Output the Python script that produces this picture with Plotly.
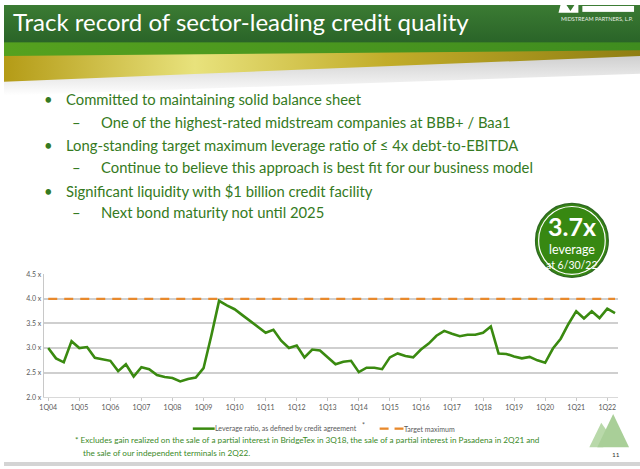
import base64
import plotly.graph_objects as go

W, H = 640, 469

# ---------------- data ----------------
quarters = [f"{q}Q{y:02d}" for y in range(4, 23) for q in range(1, 5)][:74]
leverage = [3.00, 2.79, 2.71, 3.14, 3.00, 3.02, 2.80, 2.77,
            2.74, 2.53, 2.67, 2.42, 2.61, 2.57, 2.45, 2.41,
            2.39, 2.32, 2.37, 2.40, 2.59, 3.25, 3.96, 3.87,
            3.79, 3.67, 3.55, 3.42, 3.31, 3.37, 3.15, 3.00,
            3.05, 2.81, 2.97, 2.95, 2.80, 2.67, 2.72, 2.74,
            2.51, 2.60, 2.60, 2.57, 2.81, 2.89, 2.84, 2.81,
            2.97, 3.09, 3.25, 3.35, 3.29, 3.24, 3.27, 3.27,
            3.31, 3.44, 2.89, 2.88, 2.83, 2.79, 2.82, 2.75,
            2.70, 2.99, 3.19, 3.49, 3.75, 3.60, 3.75, 3.61,
            3.80, 3.71]
target_max = [4.0] * len(quarters)
year_ticks = [q for q in quarters if q.startswith("1Q")]
y_ticks = [2.0, 2.5, 3.0, 3.5, 4.0, 4.5]
y_ticktext = ["2.0 x", "2.5 x", "3.0 x", "3.5 x", "4.0 x", "4.5 x"]

title_text = "Track record of sector-leading credit quality"
bullets = [
    ("•", "Committed to maintaining solid balance sheet"),
    ("–", "One of the highest-rated midstream companies at BBB+ / Baa1"),
    ("•", "Long-standing target maximum leverage ratio of ≤ 4x debt-to-EBITDA"),
    ("–", "Continue to believe this approach is best fit for our business model"),
    ("•", "Significant liquidity with $1 billion credit facility"),
    ("–", "Next bond maturity not until 2025"),
]
footnote1 = "* Excludes gain realized on the sale of a partial interest in BridgeTex in 3Q18, the sale of a partial interest in Pasadena in 2Q21 and"
footnote2 = "the sale of our independent terminals in 2Q22."

FONT = "Lato"
GREEN_TXT = "#357a22"
LINE_GREEN = "#3a8a10"
ORANGE = "#e8892c"


def px(X):
    return X / W


def py(Y):
    return 1 - Y / H


fig = go.Figure()
fig.add_trace(go.Scatter(x=quarters, y=leverage, mode="lines",
                         line=dict(color=LINE_GREEN, width=2.6),
                         name="Leverage ratio, as defined by credit agreement"))
fig.add_trace(go.Scatter(x=quarters, y=target_max, mode="lines",
                         line=dict(color=ORANGE, width=2.4, dash="9px,7px"),
                         name="Target maximum"))

# ---------------- header banner (decorative svg) ----------------
svg = """<svg xmlns='http://www.w3.org/2000/svg' width='640' height='92' viewBox='0 0 640 92' preserveAspectRatio='none'>
<defs>
<linearGradient id='dk' x1='0' y1='0' x2='0' y2='1'><stop offset='0' stop-color='#3b7b33'/><stop offset='1' stop-color='#2a6428'/></linearGradient>
<linearGradient id='gr' x1='0' y1='0' x2='1' y2='0'><stop offset='0' stop-color='#55a11f'/><stop offset='1' stop-color='#3f8c1f'/></linearGradient>
<linearGradient id='gd' x1='0' y1='0' x2='1' y2='0'><stop offset='0' stop-color='#b49b16'/><stop offset='0.3' stop-color='#e8e27c'/><stop offset='0.6' stop-color='#c2ad2a'/><stop offset='1' stop-color='#8f7e12'/></linearGradient>
<linearGradient id='sh' x1='0' y1='0' x2='0' y2='1'><stop offset='0' stop-color='#c8c8c8'/><stop offset='1' stop-color='#ffffff'/></linearGradient>
</defs>
<polygon points='0,62 640,46 640,70 0,92' fill='url(#sh)'/>
<polygon points='0,46 640,40 640,52 0,78' fill='url(#gd)'/>
<polygon points='0,36 640,36 640,46 0,52' fill='url(#gr)'/>
<rect x='0' y='0' width='640' height='38' fill='url(#dk)'/>
<polygon points='560,0 566,0 570,6 574,0 578,0 578,8 558,8' fill='#ffffff'/>
<rect x='582' y='1' width='52' height='6' fill='#ffffff'/>
</svg>"""
src = "data:image/svg+xml;base64," + base64.b64encode(svg.encode()).decode()
fig.add_layout_image(dict(source=src, xref="paper", yref="paper", x=0, y=1,
                          sizex=1, sizey=92 / H, sizing="stretch",
                          xanchor="left", yanchor="top", layer="below"))

shapes = []
annotations = []


def note(text, X, Y, size, color, anchor="left", bold=False):
    annotations.append(dict(text=f"<b>{text}</b>" if bold else text, x=px(X), y=py(Y),
                            xref="paper", yref="paper", xanchor=anchor, yanchor="middle",
                            showarrow=False, borderpad=0, borderwidth=0,
                            font=dict(family=FONT, size=size, color=color)))


# title
note(title_text, 9, 17, 24, "white")
note("MIDSTREAM PARTNERS, L.P.", 633, 14, 5.5, "#e8efe6", anchor="right")

# bullets
bullet_y = [96, 119, 142, 165, 189, 211]
for (mark, txt), yy in zip(bullets, bullet_y):
    if mark == "•":
        mx, tx = 45, 62
    else:
        mx, tx = 73, 98
    note(mark, mx, yy, 14.8, GREEN_TXT, anchor="center")
    note(txt, tx, yy, 14.8, GREEN_TXT)

# badge circle
shapes.append(dict(type="circle", xref="paper", yref="paper", layer="above",
                   x0=px(535), x1=px(608), y0=py(277), y1=py(202),
                   fillcolor="#378812", line=dict(color="#2f6a22", width=1.5)))
shapes.append(dict(type="circle", xref="paper", yref="paper", layer="above",
                   x0=px(538), x1=px(605), y0=py(274), y1=py(205),
                   fillcolor="rgba(0,0,0,0)", line=dict(color="white", width=1.2)))
note("3.7x", 571.5, 225, 25, "white", anchor="center", bold=True)
note("leverage", 571.5, 249, 12.5, "white", anchor="center")
note("at 6/30/22", 571.5, 265, 10.5, "white", anchor="center")

# manual legend
LEG_Y = 431
shapes.append(dict(type="line", xref="paper", yref="paper", x0=px(190), x1=px(212),
                   y0=py(LEG_Y), y1=py(LEG_Y), line=dict(color=LINE_GREEN, width=2.5)))
note("Leverage ratio, as defined by credit agreement", 212, LEG_Y, 7, "#595959")
note("*", 362, LEG_Y - 4, 7, "#595959", anchor="center")
for a, b in [(378, 387), (393, 402)]:
    shapes.append(dict(type="line", xref="paper", yref="paper", x0=px(a), x1=px(b),
                       y0=py(LEG_Y), y1=py(LEG_Y), line=dict(color=ORANGE, width=2.3)))
note("Target maximum", 403, LEG_Y, 7, "#595959")

# footnote
note(footnote1, 71, 443, 8.2, "#3a8a28")
note(footnote2, 79, 456, 8.2, "#3a8a28")


# mountain logo
def path(points):
    return "M " + " L ".join(f"{px(x):.5f},{py(y):.5f}" for x, y in points) + " Z"


shapes.append(dict(type="path", xref="paper", yref="paper", layer="above",
                   path=path([(589, 450), (601, 425), (610, 438), (603, 450)]),
                   fillcolor="#b9d9aa", line=dict(width=0)))
shapes.append(dict(type="path", xref="paper", yref="paper", layer="above",
                   path=path([(597, 450), (613, 416), (629, 450)]),
                   fillcolor="#a9cf98", line=dict(width=0)))
note("11", 616, 457, 6.5, "#333333", anchor="center")

# bottom grey band
shapes.append(dict(type="rect", xref="paper", yref="paper", x0=0, x1=1, y0=0, y1=py(465),
                   fillcolor="#d4d4d4", line=dict(width=0), layer="below"))

fig.update_layout(
    width=W, height=H, margin=dict(l=0, r=0, t=0, b=0),
    paper_bgcolor="white", plot_bgcolor="white", showlegend=False,
    shapes=shapes, annotations=annotations,
    xaxis=dict(domain=[px(40), px(618)], range=[-0.58, 73.4], type="category",
               tickvals=year_ticks, ticktext=year_ticks, ticks="outside", ticklen=3,
               tickcolor="#c8c8c8", showgrid=False, showline=True, linecolor="#d9d9d9",
               tickfont=dict(family=FONT, size=7, color="#595959"), tickangle=0),
    yaxis=dict(domain=[py(399), py(274)], range=[2.0, 4.5], tickvals=y_ticks,
               ticktext=y_ticktext, showgrid=True, gridcolor="#cfcfcf", gridwidth=1.5,
               showline=True, linecolor="#c8c8c8", zeroline=False, ticks="",
               tickfont=dict(family=FONT, size=7, color="#595959")),
)

fig.write_html("out.html", config={"displayModeBar": False},
               post_script="document.body.style.margin='0';document.body.style.overflow='hidden';")
